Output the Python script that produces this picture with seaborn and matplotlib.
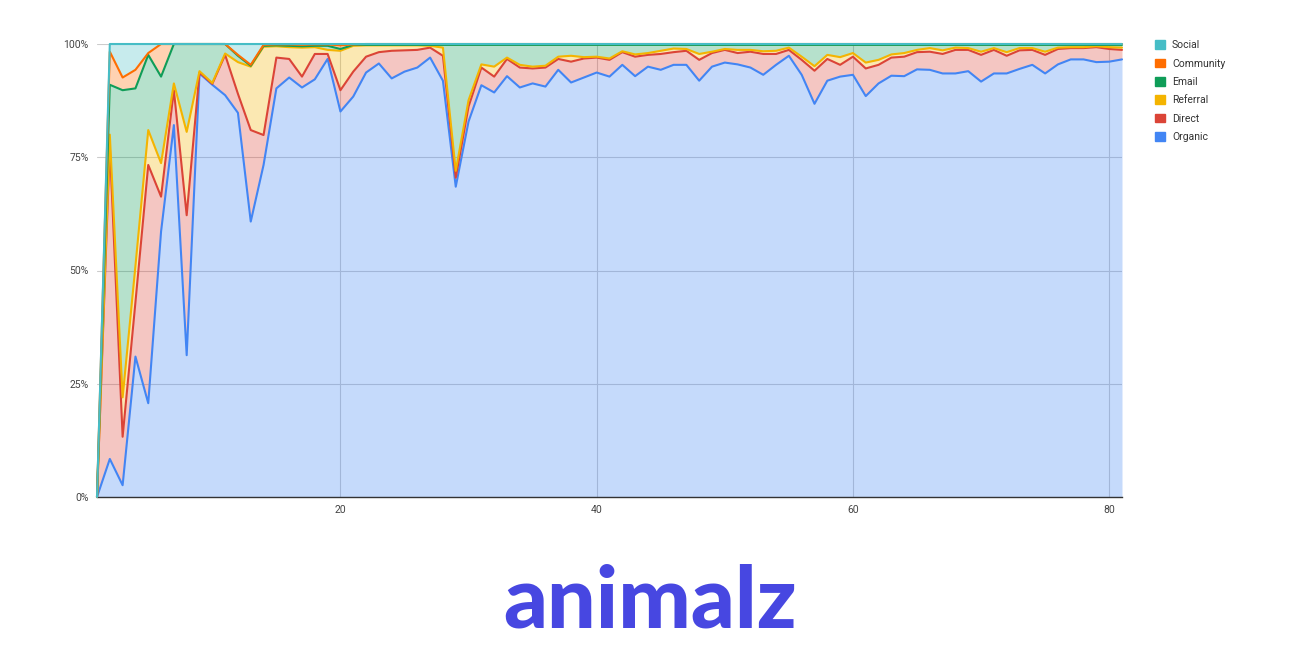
import numpy as np
import pandas as pd
import matplotlib
matplotlib.use("Agg")
import matplotlib.pyplot as plt
import seaborn as sns

# share of traffic per channel (%), days 1..81
days = list(range(1, 82))
organic = [0, 8.4, 2.6, 31.0, 20.7, 58.6, 82.1, 31.3, 93.5, 91.0,
           88.7, 84.8, 60.8, 73.3, 90.2, 92.6, 90.4, 92.2, 96.7, 85.1,
           88.4, 93.7, 95.7, 92.4, 93.9, 94.8, 97.0, 91.7, 68.5, 82.9,
           90.9, 89.3, 92.9, 90.4, 91.3, 90.6, 94.3, 91.5, 92.6, 93.7,
           92.8, 95.4, 92.9, 95.0, 94.3, 95.4, 95.4, 91.9, 95.0, 95.9,
           95.5, 94.8, 93.2, 95.4, 97.4, 93.2, 86.8, 91.9, 92.8, 93.2,
           88.5, 91.3, 93.0, 92.9, 94.4, 94.3, 93.5, 93.5, 94.0, 91.7,
           93.5, 93.5, 94.5, 95.4, 93.5, 95.5, 96.6, 96.6, 96.0, 96.1,
           96.6]
direct = [0, 69.1, 10.7, 12.0, 52.6, 7.7, 7.7, 30.9, 0.2, 0.2,
          8.9, 4.2, 20.2, 6.6, 6.8, 4.1, 2.4, 5.6, 1.1, 4.7,
          5.5, 3.5, 2.5, 6.1, 4.7, 3.9, 2.2, 5.5, 2.0, 3.3,
          3.9, 3.5, 3.8, 4.4, 3.3, 4.2, 2.4, 4.6, 4.2, 3.3,
          3.7, 2.8, 4.3, 2.6, 3.5, 2.8, 3.1, 4.6, 3.0, 2.8,
          2.5, 3.5, 4.6, 2.4, 1.3, 3.3, 7.3, 4.8, 2.6, 4.0,
          6.1, 4.1, 4.0, 4.3, 3.8, 4.0, 4.3, 5.2, 4.7, 5.9,
          5.2, 3.9, 4.1, 3.3, 4.1, 3.4, 2.5, 2.5, 3.3, 2.8,
          2.1]
referral = [0, 2.5, 8.7, 8.0, 7.7, 7.4, 1.5, 18.4, 0.3, 0.2,
            0.3, 7.0, 14.0, 19.5, 2.5, 2.6, 6.4, 1.5, 0.9, 8.7,
            5.7, 2.5, 1.5, 1.2, 1.1, 1.0, 0.4, 1.8, 1.5, 1.4,
            0.7, 2.2, 0.3, 0.6, 0.4, 0.4, 0.5, 1.3, 0.3, 0.2,
            0.3, 0.2, 0.5, 0.4, 0.7, 0.8, 0.4, 1.3, 0.3, 0.2,
            0.7, 0.4, 0.6, 0.7, 0.5, 0.7, 1.0, 0.9, 1.7, 0.8,
            1.3, 1.1, 0.7, 0.8, 0.5, 0.8, 0.8, 0.5, 0.4, 0.7,
            0.4, 0.8, 0.5, 0.4, 0.7, 0.3, 0.2, 0.2, 0.2, 0.4,
            0.5]
email = [0, 11.0, 67.8, 39.2, 16.6, 19.1, 8.7, 19.4, 6.0, 8.6,
         2.1, 1.4, 0.2, 0.2, 0.2, 0.3, 0.3, 0.3, 0.9, 0.4,
         0.2, 0.1, 0.1, 0.1, 0.1, 0.1, 0.2, 0.6, 27.8, 12.2,
         4.3, 4.8, 2.8, 4.4, 4.8, 4.6, 2.6, 2.4, 2.7, 2.6,
         3.0, 1.4, 2.1, 1.8, 1.3, 0.8, 0.9, 2.0, 1.5, 0.9,
         1.1, 1.1, 1.4, 1.3, 0.6, 2.6, 4.7, 2.2, 2.7, 1.8,
         3.9, 3.3, 2.1, 1.8, 1.1, 0.7, 1.2, 0.6, 0.7, 1.5,
         0.7, 1.6, 0.7, 0.7, 1.5, 0.6, 0.5, 0.5, 0.3, 0.5,
         0.6]
community = [0, 7.3, 2.8, 4.1, 0.4, 7.2, 0, 0, 0, 0,
             0, 0.2, 0.2, 0.2, 0.2, 0.3, 0.3, 0.3, 0.3, 0.8,
             0.1, 0.2, 0.2, 0.2, 0.2, 0.2, 0.2, 0.2, 0.2, 0.2,
             0.2, 0.2, 0.2, 0.2, 0.2, 0.2, 0.2, 0.2, 0.2, 0.2,
             0.2, 0.2, 0.2, 0.2, 0.2, 0.2, 0.2, 0.2, 0.2, 0.2,
             0.2, 0.2, 0.2, 0.2, 0.2, 0.2, 0.2, 0.2, 0.2, 0.2,
             0.2, 0.2, 0.2, 0.2, 0.2, 0.2, 0.2, 0.2, 0.2, 0.2,
             0.2, 0.2, 0.2, 0.2, 0.2, 0.2, 0.2, 0.2, 0.2, 0.2,
             0.2]
social = [0, 1.7, 7.4, 5.7, 2.0, 0, 0, 0, 0, 0,
          0, 2.4, 4.6, 0.2, 0.1, 0.1, 0.2, 0.1, 0.1, 0.3,
          0.1] + [0] * 60

channels = ["Organic", "Direct", "Referral", "Email", "Community", "Social"]
colors = ["#4285F4", "#DB4437", "#F4B400", "#0F9D58", "#FF6D00", "#46BDC6"]

df = pd.DataFrame({"Organic": organic, "Direct": direct, "Referral": referral,
                   "Email": email, "Community": community, "Social": social},
                  index=days)
# 100% stacked: normalise each day, days without traffic stay at 0
total = df.sum(axis=1).replace(0, np.nan)
share = df.div(total, axis=0).fillna(0) * 100
cum = share.cumsum(axis=1)

sns.set_theme(style="white")
plt.rcParams["font.family"] = ["Roboto", "DejaVu Sans"]

fig = plt.figure(figsize=(13, 6.52), dpi=100)
ax = fig.add_axes([97 / 1300, 1 - 497 / 652, (1122 - 97) / 1300, (497 - 44) / 652])

prev = np.zeros(len(days))
for name, col in zip(channels, colors):
    top = cum[name].values
    ax.fill_between(days, prev, top, color=col, alpha=0.3, linewidth=0, zorder=2)
    prev = top
for name, col in zip(channels, colors):
    sns.lineplot(x=days, y=cum[name].values, color=col, linewidth=1.5, ax=ax,
                 label=name, zorder=3, clip_on=False)

ax.set_xlim(1, 81)
ax.set_ylim(0, 100)
ax.set_yticks([0, 25, 50, 75, 100])
ax.set_yticklabels(["0%", "25%", "50%", "75%", "100%"])
ax.set_xticks([20, 40, 60, 80])
ax.tick_params(axis="both", labelsize=7.5, colors="#444444", length=0, pad=6)
ax.grid(True, color="#cccccc", linewidth=0.8, zorder=0)
ax.set_axisbelow(True)
for side in ["top", "right", "left"]:
    ax.spines[side].set_visible(False)
ax.spines["bottom"].set_color("#333333")
ax.spines["bottom"].set_linewidth(1)

# legend on the right, top series first
handles = [plt.Rectangle((0, 0), 1, 1, color=c) for c in colors[::-1]]
ax.get_legend().remove()
fig.legend(handles, channels[::-1], loc="upper left",
           bbox_to_anchor=(1146 / 1300, 1 - 31 / 652), frameon=False,
           fontsize=7.5, handlelength=0.9, handleheight=0.9,
           handletextpad=0.7, labelspacing=0.8, labelcolor="#333333")

fig.text(0.5, 1 - 628 / 652, "animalz", ha="center", va="baseline",
         fontsize=62, fontweight="black", family="Lato", color="#4747E1")

fig.savefig("out.png", dpi=100, facecolor="white")
